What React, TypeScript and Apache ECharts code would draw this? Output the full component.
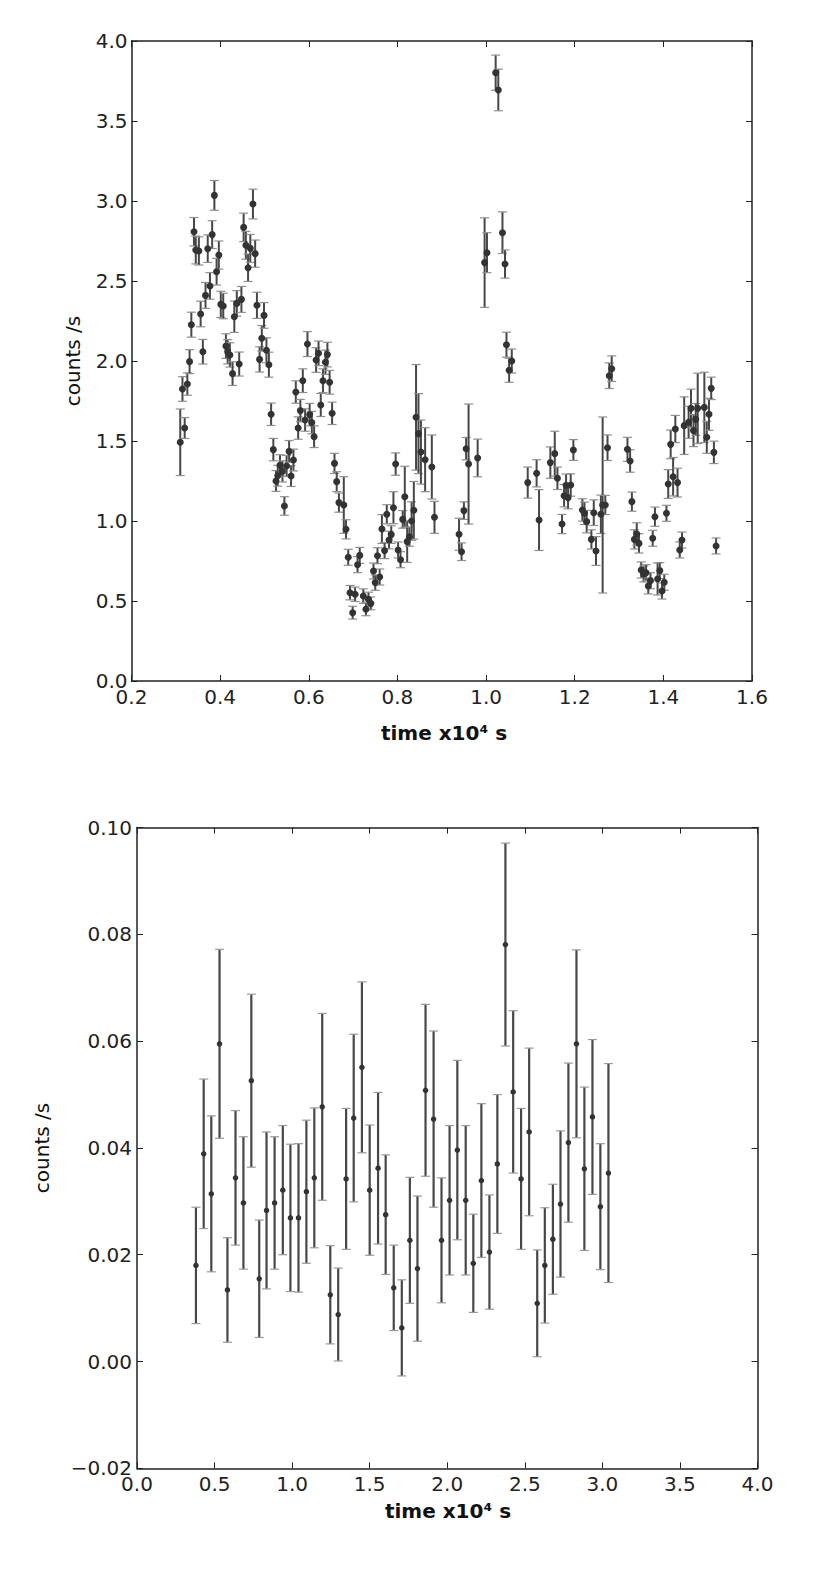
import React, { useEffect, useRef } from "react";
import * as echarts from "echarts";

// ---------- Top panel (time x10^4 s, counts/s) ----------
const topX = [
  0.310, 0.315, 0.320, 0.326, 0.331, 0.335, 0.341, 0.345, 0.352, 0.356,
  0.361, 0.367, 0.372, 0.377, 0.382, 0.387, 0.392, 0.397, 0.4015, 0.407,
  0.413, 0.417, 0.422, 0.428, 0.432, 0.4376, 0.443, 0.448, 0.453, 0.458,
  0.463, 0.468, 0.474, 0.479, 0.483, 0.489, 0.494, 0.499, 0.5045, 0.510,
  0.515, 0.520, 0.526, 0.530, 0.535, 0.5406, 0.545, 0.550, 0.5556, 0.560,
  0.5654, 0.5707, 0.576, 0.581, 0.5865, 0.5917, 0.597, 0.602, 0.6068, 0.612,
  0.6165, 0.622, 0.627, 0.632, 0.6376, 0.642, 0.647, 0.6526, 0.658, 0.663,
  0.668, 0.679, 0.684, 0.689, 0.693, 0.699, 0.7045, 0.710, 0.715, 0.723,
  0.729, 0.7346, 0.740, 0.746, 0.750, 0.755, 0.760, 0.765, 0.771, 0.776,
  0.781, 0.786, 0.791, 0.796, 0.8015, 0.807, 0.812, 0.8166, 0.822, 0.827,
  0.832, 0.837, 0.842, 0.8475, 0.853, 0.8625, 0.8776, 0.8836, 0.939, 0.9447,
  0.950, 0.955, 0.9605, 0.981, 0.9967, 1.002, 1.0216, 1.0276, 1.037, 1.0427,
  1.046, 1.052, 1.058, 1.094, 1.114, 1.1195, 1.145, 1.155, 1.161, 1.1714,
  1.176, 1.1805, 1.185, 1.191, 1.197, 1.2173, 1.222, 1.227, 1.2376, 1.243,
  1.248, 1.259, 1.263, 1.269, 1.274, 1.278, 1.2835, 1.319, 1.325, 1.329,
  1.3346, 1.340, 1.345, 1.350, 1.3556, 1.361, 1.366, 1.371, 1.376, 1.381,
  1.387, 1.392, 1.397, 1.402, 1.407, 1.411, 1.4165, 1.422, 1.427, 1.432,
  1.437, 1.442, 1.447, 1.457, 1.4624, 1.468, 1.473, 1.4775, 1.4925, 1.498,
  1.503, 1.508, 1.514, 1.519,
];
const topY = [
  1.492, 1.825, 1.581, 1.856, 1.996, 2.227, 2.808, 2.694, 2.688, 2.294,
  2.058, 2.410, 2.702, 2.469, 2.790, 3.035, 2.558, 2.662, 2.354, 2.344,
  2.093, 2.058, 2.038, 1.921, 2.277, 2.360, 1.981, 2.385, 2.835, 2.723,
  2.583, 2.704, 2.981, 2.671, 2.348, 2.010, 2.142, 2.285, 2.067, 1.977,
  1.667, 1.446, 1.250, 1.283, 1.348, 1.310, 1.094, 1.344, 1.435, 1.281,
  1.381, 1.806, 1.581, 1.690, 1.877, 1.631, 2.106, 1.665, 1.615, 1.527,
  2.006, 2.048, 1.725, 1.877, 1.992, 2.040, 1.867, 1.673, 1.360, 1.246,
  1.115, 1.100, 0.948, 0.773, 0.552, 0.427, 0.542, 0.727, 0.785, 0.531,
  0.448, 0.510, 0.485, 0.6875, 0.615, 0.783, 0.650, 0.950, 0.815, 1.042,
  0.881, 0.915, 1.083, 1.356, 0.819, 0.758, 1.010, 1.152, 0.871, 0.902,
  1.000, 1.067, 1.648, 1.546, 1.431, 1.383, 1.3375, 1.023, 0.917, 0.808,
  1.065, 1.452, 1.356, 1.394, 2.615, 2.677, 3.802, 3.694, 2.802, 2.606,
  2.102, 1.942, 2.000, 1.240, 1.298, 1.006, 1.365, 1.421, 1.267, 0.981,
  1.158, 1.223, 1.146, 1.225, 1.444, 1.069, 1.048, 0.996, 0.885, 1.052,
  0.8125, 1.042, 1.100, 1.100, 1.458, 1.908, 1.952, 1.448, 1.375, 1.121,
  0.885, 0.919, 0.860, 0.694, 0.669, 0.677, 0.594, 0.627, 0.892, 1.027,
  0.6375, 0.690, 0.5625, 0.617, 1.048, 1.231, 1.479, 1.277, 1.575, 1.240,
  0.819, 0.881, 1.596, 1.617, 1.704, 1.565, 1.635, 1.704, 1.710, 1.523,
  1.667, 1.829, 1.429, 0.844,
];
const topErr = [
  0.208, 0.077, 0.065, 0.070, 0.075, 0.078, 0.089, 0.087, 0.088, 0.080,
  0.077, 0.081, 0.086, 0.083, 0.087, 0.093, 0.083, 0.088, 0.082, 0.080,
  0.077, 0.076, 0.076, 0.074, 0.098, 0.080, 0.075, 0.081, 0.089, 0.087,
  0.086, 0.087, 0.093, 0.085, 0.082, 0.079, 0.080, 0.080, 0.078, 0.078,
  0.070, 0.070, 0.065, 0.065, 0.066, 0.066, 0.058, 0.066, 0.068, 0.065,
  0.068, 0.070, 0.070, 0.070, 0.074, 0.070, 0.078, 0.070, 0.070, 0.068,
  0.077, 0.077, 0.072, 0.074, 0.076, 0.077, 0.074, 0.070, 0.063, 0.062,
  0.060, 0.177, 0.060, 0.050, 0.045, 0.040, 0.045, 0.050, 0.050, 0.045,
  0.040, 0.045, 0.040, 0.050, 0.048, 0.050, 0.050, 0.090, 0.050, 0.060,
  0.055, 0.055, 0.100, 0.070, 0.050, 0.050, 0.055, 0.190, 0.130, 0.060,
  0.120, 0.180, 0.330, 0.250, 0.200, 0.200, 0.200, 0.100, 0.100, 0.055,
  0.055, 0.070, 0.375, 0.118, 0.280, 0.125, 0.110, 0.130, 0.130, 0.088,
  0.078, 0.075, 0.075, 0.097, 0.085, 0.190, 0.098, 0.140, 0.070, 0.060,
  0.070, 0.070, 0.070, 0.070, 0.065, 0.070, 0.070, 0.070, 0.060, 0.080,
  0.090, 0.120, 0.550, 0.060, 0.080, 0.080, 0.080, 0.075, 0.070, 0.060,
  0.060, 0.070, 0.060, 0.050, 0.050, 0.050, 0.050, 0.050, 0.050, 0.060,
  0.100, 0.050, 0.050, 0.050, 0.050, 0.090, 0.090, 0.120, 0.085, 0.090,
  0.050, 0.050, 0.180, 0.100, 0.120, 0.100, 0.100, 0.220, 0.220, 0.100,
  0.100, 0.070, 0.070, 0.050,
];

// ---------- Bottom panel ----------
const botX = [
  0.380, 0.430, 0.479, 0.532, 0.583, 0.635, 0.686, 0.737, 0.788, 0.835,
  0.887, 0.940, 0.989, 1.041, 1.092, 1.143, 1.194, 1.246, 1.297, 1.348,
  1.397, 1.450, 1.500, 1.554, 1.603, 1.655, 1.707, 1.759, 1.808, 1.860,
  1.912, 1.963, 2.015, 2.065, 2.119, 2.168, 2.220, 2.272, 2.323, 2.375,
  2.425, 2.476, 2.528, 2.580, 2.629, 2.681, 2.730, 2.781, 2.833, 2.884,
  2.936, 2.987, 3.039,
];
const botY = [
  0.0180, 0.0389, 0.0314, 0.0595, 0.0134, 0.0344, 0.0297, 0.0526, 0.0155, 0.0283,
  0.0297, 0.0321, 0.0269, 0.0269, 0.0318, 0.0344, 0.0477, 0.0125, 0.0088, 0.0342,
  0.0456, 0.0551, 0.0321, 0.0362, 0.0275, 0.0138, 0.0063, 0.0227, 0.0174, 0.0508,
  0.0454, 0.0227, 0.0302, 0.0396, 0.0302, 0.0184, 0.0339, 0.0205, 0.0370, 0.0781,
  0.0505, 0.0342, 0.0430, 0.0109, 0.0180, 0.0229, 0.0295, 0.0410, 0.0595, 0.0361,
  0.0458, 0.0290, 0.0353,
];
const botErr = [
  0.0109, 0.0140, 0.0146, 0.0177, 0.0098, 0.0126, 0.0124, 0.0162, 0.0110, 0.0147,
  0.0124, 0.0121, 0.0138, 0.0139, 0.0134, 0.0131, 0.0175, 0.0092, 0.0087, 0.0132,
  0.0157, 0.0160, 0.0122, 0.0142, 0.0112, 0.0080, 0.0090, 0.0118, 0.0136, 0.0161,
  0.0165, 0.0117, 0.0140, 0.0168, 0.0140, 0.0092, 0.0144, 0.0107, 0.0130, 0.0190,
  0.0152, 0.0132, 0.0157, 0.0100, 0.0108, 0.0103, 0.0137, 0.0149, 0.0176, 0.0153,
  0.0145, 0.0118, 0.0205,
];

const X_TITLE = "time x10⁴ s";
const Y_TITLE = "counts /s";

const FONT = "DejaVu Sans";
const AX = "#222";

function errRender(capHalf: number, barColor: string, capColor: string, barW: number) {
  return (params: any, api: any) => {
    const x = api.value(0);
    const y = api.value(1);
    const e = api.value(2);
    const t = api.coord([x, y + e]);
    const b = api.coord([x, y - e]);
    return {
      type: "group",
      children: [
        { type: "line", shape: { x1: t[0], y1: t[1], x2: b[0], y2: b[1] }, style: { stroke: barColor, lineWidth: barW } },
        { type: "line", shape: { x1: t[0] - capHalf, y1: t[1], x2: t[0] + capHalf, y2: t[1] }, style: { stroke: capColor, lineWidth: 1.2 } },
        { type: "line", shape: { x1: b[0] - capHalf, y1: b[1], x2: b[0] + capHalf, y2: b[1] }, style: { stroke: capColor, lineWidth: 1.2 } },
      ],
    };
  };
}

function mainX(grid: number, min: number, max: number, interval: number, margin: number) {
  return {
    type: "value", gridIndex: grid, min, max, interval, position: "bottom",
    axisLine: { show: true, onZero: false, lineStyle: { color: AX, width: 1.5 } },
    axisTick: { show: true, inside: true, length: 6, lineStyle: { color: AX, width: 1 } },
    axisLabel: { show: true, margin, fontSize: 20, color: AX, fontFamily: FONT, formatter: (v: number) => v.toFixed(1) },
    splitLine: { show: false },
  };
}
function sideX(grid: number, min: number, max: number, interval: number) {
  return {
    type: "value", gridIndex: grid, min, max, interval, position: "top",
    axisLine: { show: true, onZero: false, lineStyle: { color: AX, width: 1.5 } },
    axisTick: { show: true, inside: true, length: 6, lineStyle: { color: AX, width: 1 } },
    axisLabel: { show: false },
    splitLine: { show: false },
  };
}
function mainY(grid: number, min: number, max: number, interval: number, digits: number, margin: number) {
  return {
    type: "value", gridIndex: grid, min, max, interval, position: "left",
    axisLine: { show: true, onZero: false, lineStyle: { color: AX, width: 1.5 } },
    axisTick: { show: true, inside: true, length: 6, lineStyle: { color: AX, width: 1 } },
    axisLabel: {
      show: true, margin, fontSize: 20, color: AX, fontFamily: FONT,
      formatter: (v: number) => {
        const a = Math.abs(v) < 1e-9 ? 0 : v;
        return (a < 0 ? "\u2212" : "") + Math.abs(a).toFixed(digits);
      },
    },
    splitLine: { show: false },
  };
}
function sideY(grid: number, min: number, max: number, interval: number) {
  return {
    type: "value", gridIndex: grid, min, max, interval, position: "right",
    axisLine: { show: true, onZero: false, lineStyle: { color: AX, width: 1.5 } },
    axisTick: { show: true, inside: true, length: 6, lineStyle: { color: AX, width: 1 } },
    axisLabel: { show: false },
    splitLine: { show: false },
  };
}

export default function App() {
  const ref = useRef<HTMLDivElement>(null);
  useEffect(() => {
    if (!ref.current) return;
    const chart = echarts.init(ref.current, undefined, { renderer: "svg" });
    const topData = topX.map((x, i) => [x, topY[i], topErr[i]]);
    const botData = botX.map((x, i) => [x, botY[i], botErr[i]]);
    chart.setOption({
      animation: false,
      backgroundColor: "#fff",
      grid: [
        { left: 131.5, top: 41, width: 620.5, height: 640, containLabel: false },
        { left: 137, top: 827.6, width: 620.5, height: 640.7, containLabel: false },
      ],
      xAxis: [
        mainX(0, 0.2, 1.6, 0.2, 6),
        sideX(0, 0.2, 1.6, 0.2),
        mainX(1, 0, 4, 0.5, 6),
        sideX(1, 0, 4, 0.5),
      ],
      yAxis: [
        mainY(0, 0, 4, 0.5, 1, 4),
        sideY(0, 0, 4, 0.5),
        mainY(1, -0.02, 0.1, 0.02, 2, 5),
        sideY(1, -0.02, 0.1, 0.02),
      ],
      series: [
        {
          type: "custom", xAxisIndex: 0, yAxisIndex: 0, data: topData,
          encode: { x: 0, y: 1 }, renderItem: errRender(4.5, "#474747", "#8f8f8f", 2), z: 2,
        },
        {
          type: "scatter", xAxisIndex: 0, yAxisIndex: 0, data: topData.map((d) => [d[0], d[1]]),
          symbol: "circle", symbolSize: 7, itemStyle: { color: "#333", opacity: 1 }, z: 3,
        },
        {
          type: "custom", xAxisIndex: 2, yAxisIndex: 2, data: botData,
          encode: { x: 0, y: 1 }, renderItem: errRender(4.5, "#474747", "#9a9a9a", 2.2), z: 2,
        },
        {
          type: "scatter", xAxisIndex: 2, yAxisIndex: 2, data: botData.map((d) => [d[0], d[1]]),
          symbol: "circle", symbolSize: 5.5, itemStyle: { color: "#333", opacity: 1 }, z: 3,
        },
      ],
      graphic: [
        { type: "text", x: 444, y: 733, style: { text: X_TITLE, fontSize: 20, fontWeight: "bold", fontFamily: FONT, fill: "#111", textAlign: "center", textVerticalAlign: "middle" } },
        { type: "text", x: 448, y: 1511, style: { text: X_TITLE, fontSize: 20, fontWeight: "bold", fontFamily: FONT, fill: "#111", textAlign: "center", textVerticalAlign: "middle" } },
        { type: "text", x: 72.5, y: 361, rotation: Math.PI / 2, style: { text: Y_TITLE, fontSize: 20, fontFamily: FONT, fill: "#111", textAlign: "center", textVerticalAlign: "middle" } },
        { type: "text", x: 42, y: 1148, rotation: Math.PI / 2, style: { text: Y_TITLE, fontSize: 20, fontFamily: FONT, fill: "#111", textAlign: "center", textVerticalAlign: "middle" } },
      ],
    });
    return () => chart.dispose();
  }, []);
  return <div ref={ref} style={{ position: "absolute", left: 0, top: 0, width: 832, height: 1573 }} />;
}
